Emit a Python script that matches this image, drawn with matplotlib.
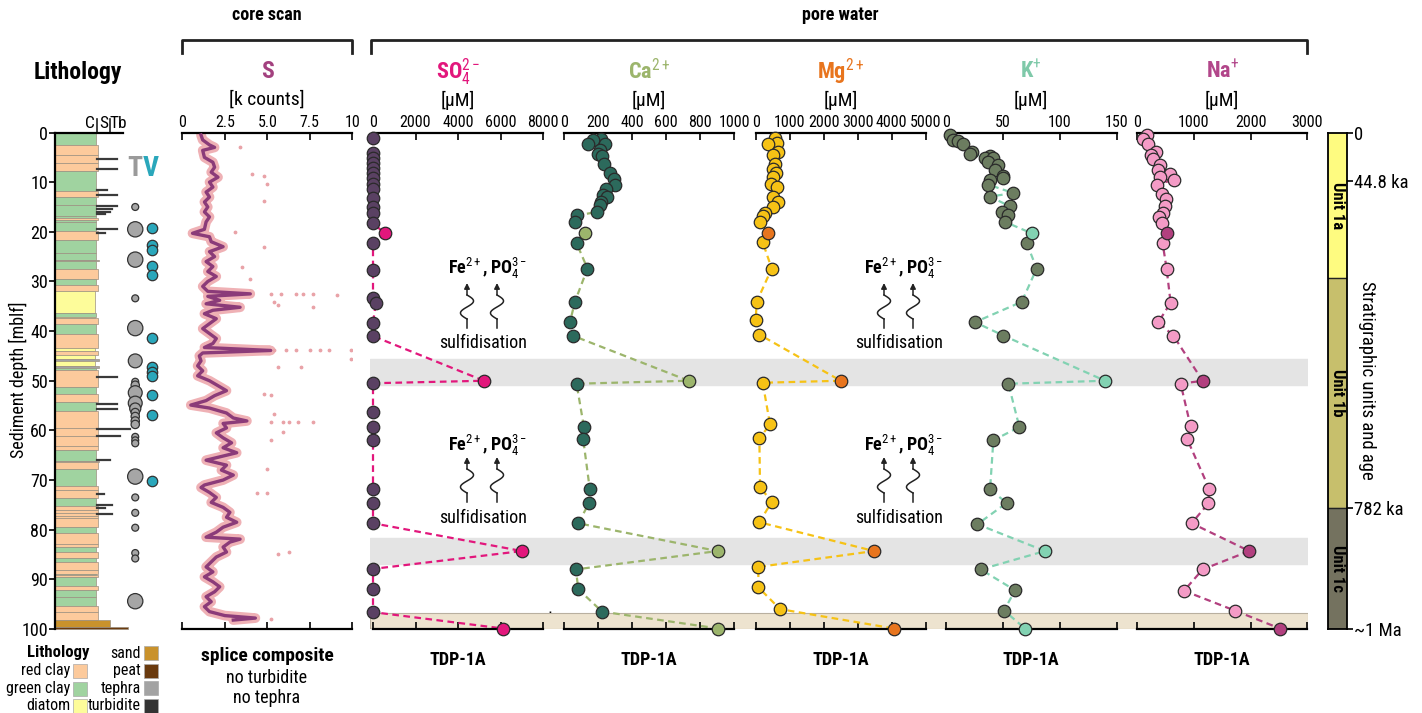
import numpy as np
import matplotlib
matplotlib.use('Agg')
import matplotlib.pyplot as plt
from matplotlib import font_manager
from matplotlib.patches import Rectangle

# pick a narrow sans face (Arial Narrow look)
avail = {f.name for f in font_manager.fontManager.ttflist}
NARROW = 'Liberation Sans'
for cand in ['Liberation Sans Narrow', 'Arial Narrow', 'Roboto Condensed', 'Archivo Narrow',
             'PT Sans Narrow', 'Arimo Narrow', 'IBM Plex Sans Condensed', 'Open Sans Condensed']:
    if cand in avail:
        NARROW = cand
        break

plt.rcParams['font.family'] = [NARROW, 'Liberation Sans', 'DejaVu Sans']
plt.rcParams['mathtext.fontset'] = 'custom'
plt.rcParams['mathtext.rm'] = NARROW
plt.rcParams['mathtext.bf'] = NARROW + ':bold'
plt.rcParams['mathtext.it'] = NARROW + ':italic'

# ---------------- data ----------------
# lithology: top depth of each layer (m) and type
litho_top = [0, 2.6, 4.6, 6.2, 7.7, 11.7, 13.0, 14.7, 16.8, 17.2,
             17.6, 18.1, 19.9, 21.6, 24.3, 25.6, 25.9, 27.5, 29.6, 30.8,
             31.9, 36.3, 37.1, 37.4, 38.5, 40.6, 43.5, 44.1, 44.8, 45.7,
             46.0, 47.0, 47.4, 47.8, 51.3, 52.7, 54.3, 56.1, 59.5, 61.2,
             63.2, 64.0, 66.2, 66.4, 67.8, 71.1, 72.0, 73.6, 75.2, 76.0,
             76.6, 77.2, 77.7, 79.4, 80.6, 82.8, 83.4, 84.5, 85.8, 86.5,
             88.2, 88.9, 89.2, 89.5, 91.4, 92.1, 93.6, 95.3, 96.6, 98.1,
             99.5]
litho_type = ['g', 'r', 'r', 'r', 'g', 'r', 'g', 'g', 'g', 'r',
              'g', 'g', 'r', 'g', 'g', 't', 'g', 'r', 'g', 'r',
              'd', 'g', 'd', 'r', 'g', 'r', 'd', 'r', 'd', 't',
              'd', 't', 'g', 'r', 'g', 'r', 'g', 'r', 'r', 'r',
              'r', 'g', 't', 'r', 'g', 'r', 'r', 'g', 'r', 'r',
              'r', 'r', 'r', 'g', 'r', 'r', 'g', 'r', 'g', 'r',
              'r', 'g', 'r', 'g', 'r', 'g', 'g', 'r', 'r', 's',
              'p']

turb_depth = [5.4, 7.4, 11.5, 12.5, 14.8, 15.5, 16.0, 16.4, 19.5, 20.2,
              49.2, 54.7, 55.6, 59.7, 61.1, 66.0, 72.8, 75.0, 75.7, 76.8]
turb_end = [0.91, 0.91, 0.76, 0.91, 0.91, 0.84, 0.81, 0.74, 0.91, 0.74,
            0.91, 0.91, 0.91, 1.10, 0.96, 0.81, 0.72, 0.84, 0.74, 0.84]

teph_depth = [15.0, 19.5, 25.6, 33.4, 39.4, 46.0, 50.2, 50.9, 52.4, 54.5,
              55.6, 56.4, 57.2, 58.1, 58.8, 61.3, 62.0, 62.6, 69.3, 73.5,
              76.6, 79.6, 84.7, 85.8, 94.4]
teph_size = [5, 11, 11, 5, 11, 10, 5, 6, 10, 10,
             8, 6, 6, 6, 6, 5, 5, 5, 11, 5,
             5, 5, 5, 5, 11]
v_depth = [19.2, 22.6, 23.6, 26.8, 28.8, 41.4, 47.2, 48.2, 49.1, 52.9, 56.8, 70.1]

# core scan S (k counts): smoothed record and outliers
s_depth = [0.5, 1.5, 2.5, 3.0, 3.6, 5.0, 6.0, 7.0, 8.0, 9.0,
           10.0, 11.0, 12.0, 13.0, 14.0, 15.0, 16.0, 17.0, 18.0, 19.5,
           20.3, 21.0, 22.0, 23.0, 24.0, 25.0, 26.0, 27.0, 28.0, 29.0,
           30.0, 31.0, 32.0, 32.5, 33.0, 33.8, 34.5, 35.2, 35.8, 36.5,
           37.5, 38.5, 39.5, 40.5, 41.5, 42.5, 43.3, 43.9, 44.4, 45.0,
           46.0, 47.0, 48.0, 49.0, 50.0, 51.0, 52.0, 53.0, 54.0, 54.9,
           55.5, 56.5, 57.5, 58.1, 58.6, 59.5, 60.5, 61.5, 62.5, 63.5,
           64.5, 65.5, 66.0, 67.0, 68.0, 69.0, 70.0, 71.0, 71.5, 72.5,
           73.5, 74.5, 75.5, 76.5, 77.5, 78.5, 79.5, 80.5, 81.5, 81.9,
           82.5, 83.5, 84.5, 85.5, 86.5, 87.5, 88.5, 89.5, 90.5, 91.5,
           92.5, 93.5, 94.5, 95.5, 96.5, 97.3, 97.8, 98.2]
s_val = [1.1, 1.2, 1.6, 1.9, 1.2, 1.3, 1.8, 1.9, 1.7, 2.1,
         1.6, 1.8, 1.4, 1.6, 1.3, 1.5, 1.3, 1.6, 1.4, 1.3,
         0.6, 1.6, 1.7, 2.4, 1.6, 1.9, 1.4, 1.8, 1.5, 2.0,
         1.5, 1.2, 1.5, 4.0, 1.5, 2.2, 1.4, 3.4, 1.8, 1.3,
         2.0, 1.6, 1.2, 1.6, 2.0, 1.8, 1.3, 5.2, 1.2, 1.0,
         1.1, 0.9, 1.2, 0.9, 1.6, 2.1, 2.6, 1.9, 1.4, 0.5,
         1.6, 2.6, 3.0, 3.8, 2.4, 2.6, 2.0, 2.4, 2.9, 2.4,
         3.2, 2.0, 1.4, 2.6, 2.3, 3.0, 2.4, 1.3, 1.1, 1.6,
         2.0, 1.7, 2.4, 2.8, 2.6, 3.2, 2.4, 2.0, 1.4, 3.4,
         2.8, 2.4, 2.6, 2.0, 1.7, 1.4, 1.8, 1.3, 1.8, 2.2,
         1.9, 1.4, 1.7, 1.3, 1.6, 2.5, 4.3, 3.0]
s_out_depth = [3.0, 8.3, 8.7, 10.3, 13.7, 20.1, 23.1, 27.1, 29.5, 32.5,
               32.5, 32.5, 32.5, 32.5, 32.8, 34.1, 34.8, 35.2, 43.9, 43.9,
               43.9, 43.9, 43.9, 43.9, 43.9, 45.6, 47.2, 47.2, 52.6, 52.9,
               56.6, 58.3, 58.3, 58.3, 58.3, 58.3, 60.3, 62.0, 67.7, 72.7,
               72.7, 84.8, 84.4, 97.9]
s_out_val = [3.4, 4.1, 4.8, 5.0, 4.8, 3.1, 4.8, 3.5, 4.0, 5.2,
             5.8, 6.7, 7.1, 7.7, 9.1, 5.4, 5.6, 7.7, 5.4, 6.1,
             6.7, 7.5, 8.1, 8.6, 9.9, 9.9, 7.0, 5.6, 4.8, 5.2,
             5.4, 5.2, 5.9, 6.3, 6.8, 7.7, 5.9, 5.2, 5.0, 5.0,
             4.4, 5.6, 6.3, 5.2]

# pore water samples (depth m, value uM); tephra/peat samples highlighted
special_depth = [20.3, 50.0, 84.3, 99.9]

so4_depth = [1.2, 4.2, 5.2, 6.2, 7.2, 8.2, 9.2, 10.3, 11.3, 13.1,
             15.1, 16.3, 18.3, 20.3, 22.3, 27.6, 33.4, 34.4, 38.4, 41.0,
             50.0, 50.5, 56.3, 59.4, 62.0, 71.8, 74.6, 78.7, 84.3, 87.9,
             92.0, 96.6, 99.9]
so4_val = [0, 0, 0, 0, 0, 0, 0, 0, 0, 0,
           0, 0, 0, 560, 0, 0, 0, 130, 0, 0,
           5220, 0, 0, 0, 0, 0, 0, 0, 7010, 0,
           0, 0, 6120]

ca_depth = [1.3, 1.6, 2.3, 2.4, 3.6, 4.3, 4.8, 6.4, 8.2, 9.3,
            10.5, 11.3, 12.5, 12.9, 14.0, 14.7, 16.0, 16.7, 18.0, 20.3,
            22.3, 27.4, 34.1, 38.2, 40.9, 50.0, 50.6, 59.3, 61.8, 71.9,
            74.6, 78.7, 84.3, 88.0, 92.0, 96.5, 99.9]
ca_val = [220, 172, 240, 142, 210, 201, 226, 234, 273, 292,
          298, 246, 230, 253, 220, 210, 195, 78, 64, 123,
          74, 138, 64, 35, 50, 733, 74, 117, 113, 152,
          148, 84, 903, 70, 84, 224, 908]

mg_depth = [1.1, 2.1, 2.4, 4.0, 4.6, 6.4, 7.3, 8.2, 9.0, 10.3,
            11.0, 13.0, 14.0, 15.0, 16.2, 16.9, 18.0, 20.3, 22.1, 27.4,
            34.1, 37.8, 40.7, 50.0, 50.4, 58.8, 61.6, 71.4, 74.4, 78.5,
            84.3, 87.5, 91.6, 96.0, 99.9]
mg_val = [569, 637, 373, 667, 520, 569, 520, 588, 520, 441,
          637, 520, 667, 520, 275, 225, 127, 373, 206, 471,
          29, 0, 108, 2500, 206, 422, 108, 127, 471, 108,
          3480, 78, 78, 716, 4069]

k_depth = [0.6, 1.5, 1.7, 2.4, 4.0, 4.4, 4.8, 5.1, 5.2, 6.0,
           6.6, 7.6, 8.7, 9.1, 9.5, 10.5, 12.2, 12.9, 14.9, 16.0,
           16.7, 18.0, 20.3, 22.3, 27.4, 34.1, 38.2, 40.9, 50.0, 50.6,
           59.3, 62.0, 71.9, 74.6, 78.9, 84.3, 88.0, 92.2, 96.3, 99.9]
k_val = [3.8, 6.7, 11.1, 15.5, 22.8, 21.3, 38.9, 34.5, 41.8, 37.4,
         46.2, 43.3, 50.6, 50.6, 38.9, 37.4, 59.4, 38.9, 56.4, 49.1,
         55.0, 52.0, 75.4, 71.1, 79.8, 66.7, 25.7, 50.6, 139.8, 55.0,
         64.6, 41.8, 38.9, 53.5, 27.8, 87.1, 30.7, 60.8, 51.2, 69.6]

na_depth = [0.6, 1.3, 2.4, 4.0, 4.6, 5.3, 6.6, 7.6, 8.3, 9.0,
            9.5, 10.5, 12.3, 13.3, 14.9, 16.2, 17.0, 18.2, 20.3, 22.3,
            27.5, 34.3, 38.2, 40.9, 50.0, 50.6, 59.2, 61.8, 71.8, 74.7,
            78.7, 84.3, 88.0, 92.3, 96.3, 99.9]
na_val = [176, 94, 194, 329, 235, 271, 400, 371, 576, 400,
          647, 341, 429, 506, 488, 459, 388, 429, 529, 447,
          518, 588, 371, 635, 1153, 765, 941, 882, 1271, 1253,
          959, 1976, 1153, 824, 1724, 2518]

tephra_bands = [(45.7, 50.9), (81.7, 86.9)]
peat_band = (96.8, 100)

unit_top = [0, 29.3, 75.7]
unit_bot = [29.3, 75.7, 100]
unit_name = ['Unit 1a', 'Unit 1b', 'Unit 1c']
age_depth = [0, 9.7, 75.7, 100]
age_label = ['0', '44.8 ka', '782 ka', '~1 Ma']

# ---------------- styles ----------------
LITHO_COL = {'r': '#fcca9c', 'g': '#a0d3a0', 'd': '#fdfc9a', 't': '#a3a3a3',
             's': '#c9922c', 'p': '#6a3a0e'}
LITHO_W = {'r': 0.63, 'g': 0.60, 'd': 0.59, 't': 0.65, 's': 0.81, 'p': 1.08}
DARK = '#222222'
TICK = 11.5

W, H = 1422, 713
Y0, Y1 = 132.5, 629

fig = plt.figure(figsize=(W / 100, H / 100), dpi=100)


def add_ax(x0, x1, y0=Y0, y1=Y1):
    return fig.add_axes([x0 / W, 1 - y1 / H, (x1 - x0) / W, (y1 - y0) / H])


ov = fig.add_axes([0, 0, 1, 1])
ov.set_xlim(0, W)
ov.set_ylim(H, 0)
ov.axis('off')


def txt(x, y, s, size=12, **kw):
    kw.setdefault('ha', 'center')
    kw.setdefault('va', 'center')
    ov.text(x, y, s, fontsize=size, **kw)


# ---------------- lithology ----------------
axl = add_ax(55, 123)
axl.set_xlim(0, 1)
axl.set_ylim(100, 0)
bots = litho_top[1:] + [100]
for top, bot, t in zip(litho_top, bots, litho_type):
    axl.add_patch(Rectangle((0, top), LITHO_W[t], bot - top, fc=LITHO_COL[t],
                            ec='#9c9080', lw=0.5, clip_on=False, zorder=2))
for d, e in zip(turb_depth, turb_end):
    axl.plot([0.62, e], [d, d], color='#3a3a3a', lw=1.6, clip_on=False, zorder=3)
axl.scatter([1.18] * len(teph_depth), teph_depth, s=np.array(teph_size) ** 2,
            color='#a6a6a6', edgecolor='#333333', lw=0.9, clip_on=False, zorder=4)
axl.scatter([1.43] * len(v_depth), v_depth, s=7.5 ** 2,
            color='#2aa7bb', edgecolor='#333333', lw=0.9, clip_on=False, zorder=4)
for sp in ['right', 'bottom']:
    axl.spines[sp].set_visible(False)
axl.spines['left'].set_linewidth(1.6)
axl.spines['top'].set_linewidth(1.6)
axl.set_xticks([])
axl.set_yticks(range(0, 101, 10))
axl.tick_params(axis='y', direction='out', length=4, width=1.2, labelsize=13, pad=1)

for x in (97, 110):
    ov.plot([x, x], [119, 132.5], color=DARK, lw=1.2)
txt(90, 124, 'C', 12.5)
txt(103.5, 124, 'S', 12.5)
txt(118, 124, 'Tb', 12.5)
txt(135, 169, 'T', 20, color='#9a9a9a', fontweight='bold')
txt(151, 169, 'V', 20, color='#2aa7bb', fontweight='bold')
txt(78, 73, 'Lithology', 17, fontweight='bold')
ov.text(18, 380, 'Sediment depth [mblf]', fontsize=13, rotation=90, ha='center', va='center')

# legend
txt(58, 653, 'Lithology', 12, fontweight='bold')
for i, (lab, t) in enumerate([('red clay', 'r'), ('green clay', 'g'), ('diatom', 'd')]):
    y = 671 + 17.5 * i
    ov.text(70, y, lab, fontsize=11.5, ha='right', va='center')
    ov.add_patch(Rectangle((73, y - 7), 14, 14, fc=LITHO_COL[t], ec='#aaaaaa', lw=0.5))
for i, (lab, t) in enumerate([('sand', 's'), ('peat', 'p'), ('tephra', 't'), ('turbidite', None)]):
    y = 653 + 17.5 * i
    ov.text(141, y, lab, fontsize=11.5, ha='right', va='center')
    ov.add_patch(Rectangle((144, y - 7), 14, 14, fc=LITHO_COL[t] if t else '#333333',
                           ec='#aaaaaa', lw=0.5))

# ---------------- core scan S ----------------
axs = add_ax(182.3, 352.3)
axs.set_facecolor('none')
axs.set_xlim(0, 10)
axs.set_ylim(100, 0)
axs.plot(s_val, s_depth, color='#efb1b5', lw=7, solid_joinstyle='round',
         solid_capstyle='round', zorder=2)
axs.scatter(s_out_val, s_out_depth, s=3, color='#e9a3a8', zorder=2)
axs.plot(s_val, s_depth, color='#8b3b79', lw=2.4, zorder=3)

# ---------------- pore water ----------------
bg = add_ax(370, 1308)
bg.set_xlim(0, 1)
bg.set_ylim(100, 0)
bg.axis('off')
for a, b in tephra_bands:
    bg.axhspan(a, b, color='#e4e4e4', zorder=0)
bg.axhspan(peat_band[0], peat_band[1], fc='#ede3cf', ec='#b9b0a0', lw=0.8, zorder=0)

panels = [
    (373, 543, 8000, so4_depth, so4_val, '#5a4163', '#e2177c', '#e2177c',
     'SO$_4^{2-}$', '#e2177c', [0, 2000, 4000, 6000, 8000]),
    (564, 734, 1000, ca_depth, ca_val, '#2c6a5c', '#9cb56c', '#9cb56c',
     'Ca$^{2+}$', '#9cb56c', [0, 200, 400, 600, 800, 1000]),
    (755.7, 925.7, 5000, mg_depth, mg_val, '#f6c215', '#e8751e', '#f6c215',
     'Mg$^{2+}$', '#e8751e', [0, 1000, 2000, 3000, 4000, 5000]),
    (945.7, 1116.7, 150, k_depth, k_val, '#6c7d60', '#82d2b2', '#82d2b2',
     'K$^{+}$', '#7fc9a9', [0, 50, 100, 150]),
    (1137.3, 1307.3, 3000, na_depth, na_val, '#f49bc6', '#b2407f', '#b2407f',
     'Na$^{+}$', '#b2468a', [0, 1000, 2000, 3000]),
]

scale_axes = [(axs, [0, 2.5, 5, 7.5, 10], ['0', '2.5', '5.0', '7.5', '10'])]
for x0, x1, xmax, dep, val, c_base, c_hi, c_line, title, c_title, ticks in panels:
    ax = add_ax(x0, x1)
    ax.set_facecolor('none')
    ax.set_xlim(0, xmax)
    ax.set_ylim(100, 0)
    dep = np.array(dep)
    val = np.array(val)
    hi = np.isin(dep, special_depth)
    ax.plot(val, dep, ls=(0, (3, 2)), color=c_line, lw=1.6, zorder=2, clip_on=False)
    ax.plot(val[~hi], dep[~hi], 'o', ms=9, mfc=c_base, mec='#2a2a2a', mew=0.9,
            zorder=3, clip_on=False)
    ax.plot(val[hi], dep[hi], 'o', ms=9, mfc=c_hi, mec='#2a2a2a', mew=0.9,
            zorder=4, clip_on=False)
    scale_axes.append((ax, ticks, [str(t) for t in ticks]))
    xc = (x0 + x1) / 2
    txt(xc, 72, title, 16, color=c_title, fontweight='bold')
    txt(xc, 100, '[µM]', 14)
    txt(xc, 660, 'TDP-1A', 13, fontweight='bold')

for ax, ticks, labels in scale_axes:
    for sp in ['left', 'right']:
        ax.spines[sp].set_visible(False)
    for sp in ['top', 'bottom']:
        ax.spines[sp].set_linewidth(1.6)
    ax.set_yticks([])
    ax.set_xticks(ticks)
    ax.set_xticklabels(labels)
    ax.tick_params(axis='x', direction='in', top=True, bottom=True,
                   labeltop=True, labelbottom=False, length=5, width=1.2,
                   labelsize=TICK, pad=2)

txt(267, 72, 'S', 17, color='#a3417f', fontweight='bold')
txt(267, 100, '[k counts]', 14)
txt(267, 656, 'splice composite', 14, fontweight='bold')
txt(267, 678, 'no turbidite', 13)
txt(267, 698, 'no tephra', 13)

# brackets
ov.plot([182, 182, 352, 352], [53, 40, 40, 53], color=DARK, lw=2)
ov.plot([371, 371, 1307, 1307], [53, 40, 40, 53], color=DARK, lw=2)
txt(267, 15, 'core scan', 13, fontweight='bold')
txt(840, 15, 'pore water', 13, fontweight='bold')


# sulfidisation annotations
def squiggle(xc, ytip, ybot):
    yy = np.linspace(ybot - 9, ytip + 12, 80)
    s = (yy - yy[0]) / (yy[-1] - yy[0])
    xx = xc - 6.5 * np.sin(2 * np.pi * s)
    ov.plot([xc, xc], [ybot, ybot - 9], color=DARK, lw=1.1)
    ov.plot(xx, yy, color=DARK, lw=1.1)
    ov.annotate('', xy=(xc, ytip), xytext=(xc, ytip + 12),
                arrowprops=dict(arrowstyle='-|>', color=DARK, lw=1.1,
                                mutation_scale=8, shrinkA=0, shrinkB=0))


for xc, xa, xb in [(488, 467, 497), (904, 884, 913)]:
    for yt, ya, yb, ys in [(268, 283, 328, 343), (445, 457, 502, 518)]:
        txt(xc, yt, 'Fe$^{2+}$, PO$_4^{3-}$', 13, fontweight='bold')
        squiggle(xa, ya, yb)
        squiggle(xb, ya, yb)
        txt(xc - 5, ys, 'sulfidisation', 13)

txt(413, 372, 'tephra?', 13.5)
txt(413, 551, 'tephra?', 13.5)
txt(538, 619, 'peat', 13.5)

# ---------------- units / age ----------------
axu = add_ax(1328, 1347)
axu.set_xlim(0, 1)
axu.set_ylim(100, 0)
for top, bot, name, col in zip(unit_top, unit_bot, unit_name,
                               ['#fefb80', '#c7bf6c', '#74725f']):
    axu.axhspan(top, bot, color=col, zorder=0)
    axu.axhline(bot, color=DARK, lw=1)
    axu.text(0.5, (top + bot) / 2 if name != 'Unit 1a' else 14.7, name,
             rotation=-90, ha='center', va='center', fontsize=12, fontweight='bold')
for sp in axu.spines.values():
    sp.set_linewidth(1.3)
axu.set_xticks([])
axu.yaxis.tick_right()
axu.set_yticks(age_depth)
axu.set_yticklabels(age_label)
axu.tick_params(axis='y', direction='out', length=4, width=1.2, labelsize=13.5, pad=1)
ov.text(1367, 380, 'Stratigraphic units and age', fontsize=13.5, rotation=-90,
        ha='center', va='center')

fig.savefig('out.png', dpi=100)
